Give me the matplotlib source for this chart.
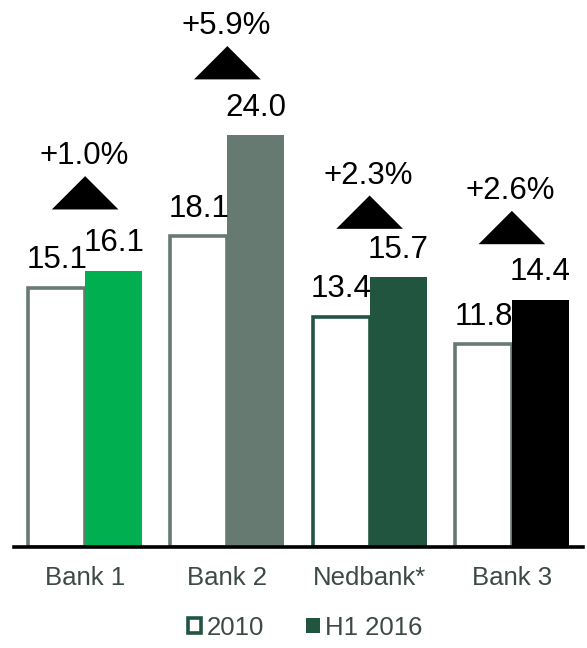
import matplotlib
matplotlib.use("Agg")
import matplotlib.pyplot as plt
import numpy as np
from matplotlib.patches import Polygon, Patch
from matplotlib import transforms

plt.rcParams['font.family'] = ['Liberation Sans', 'DejaVu Sans']

# Data
banks = ["Bank 1", "Bank 2", "Nedbank*", "Bank 3"]
values_2010 = [15.1, 18.1, 13.4, 11.8]
values_h1_2016 = [16.1, 24.0, 15.7, 14.4]
growth_labels = ["+1.0%", "+5.9%", "+2.3%", "+2.6%"]
series_names = ["2010", "H1 2016"]

# Styling
fill_colors = ["#00b050", "#667a72", "#215540", "#000000"]
edge_colors = ["#667a72", "#667a72", "#215540", "#667a72"]
legend_color = "#215540"
text_grey = "#3d4a44"
# gap (points) between each coloured bar top and the growth arrow base
arrow_gaps = [44, 40, 35, 40]

W, H, DPI = 587, 648, 100
fig = plt.figure(figsize=(W / DPI, H / DPI), dpi=DPI)
ax = fig.add_axes([14 / W, 101 / H, 569 / W, 547 / H])

x = np.arange(len(banks))
bw = 0.4

ax.bar(x - bw / 2, values_2010, width=bw, facecolor="white",
       edgecolor=edge_colors, linewidth=2.6, zorder=2)
ax.bar(x + bw / 2, values_h1_2016, width=bw, color=fill_colors,
       linewidth=0, zorder=3)

ax.set_xlim(-0.5, 3.5)
ax.set_ylim(0, 31.86)

for s in ["top", "right", "left"]:
    ax.spines[s].set_visible(False)
ax.spines["bottom"].set_linewidth(2.6)
ax.spines["bottom"].set_color("black")
ax.spines["bottom"].set_zorder(5)
ax.set_yticks([])
ax.set_xticks(x)
ax.set_xticklabels(banks, fontsize=18.5, color=text_grey)
ax.tick_params(axis="x", length=0, pad=14)

# value labels
for i in range(len(banks)):
    ax.annotate(f"{values_2010[i]:.1f}", (x[i] - bw / 2, values_2010[i]),
                xytext=(0, 14), textcoords="offset points",
                ha="center", va="baseline", fontsize=22.5, color="black", zorder=6)
    ax.annotate(f"{values_h1_2016[i]:.1f}", (x[i] + bw / 2, values_h1_2016[i]),
                xytext=(0, 14), textcoords="offset points",
                ha="center", va="baseline", fontsize=22.5, color="black", zorder=6)

# growth arrows with percentage labels
tri_w, tri_h = 48, 24  # points
for i in range(len(banks)):
    anchor = transforms.ScaledTranslation(x[i], values_h1_2016[i], ax.transData)
    tr = fig.dpi_scale_trans + anchor
    g = arrow_gaps[i] / 72
    w = tri_w / 72
    h = tri_h / 72
    tri = Polygon([(-w / 2, g), (w / 2, g), (0, g + h)], closed=True,
                  facecolor="black", edgecolor="none", transform=tr,
                  clip_on=False, zorder=6)
    ax.add_patch(tri)
    ax.text(-1 / 72, g + h + 8.5 / 72, growth_labels[i], transform=tr,
            ha="center", va="baseline", fontsize=22.5, color="black",
            clip_on=False, zorder=6)

handles = [Patch(facecolor="white", edgecolor=legend_color, linewidth=2.6),
           Patch(facecolor=legend_color, edgecolor=legend_color, linewidth=0)]
leg = fig.legend(handles, series_names, loc="center", bbox_to_anchor=(305 / W, 1 - 628 / H),
                 ncol=2, frameon=False, fontsize=18.5, handlelength=0.52,
                 handleheight=0.52, handletextpad=0.2, columnspacing=1.65,
                 borderpad=0)
for t in leg.get_texts():
    t.set_color(text_grey)

fig.savefig("out.png", dpi=DPI)
